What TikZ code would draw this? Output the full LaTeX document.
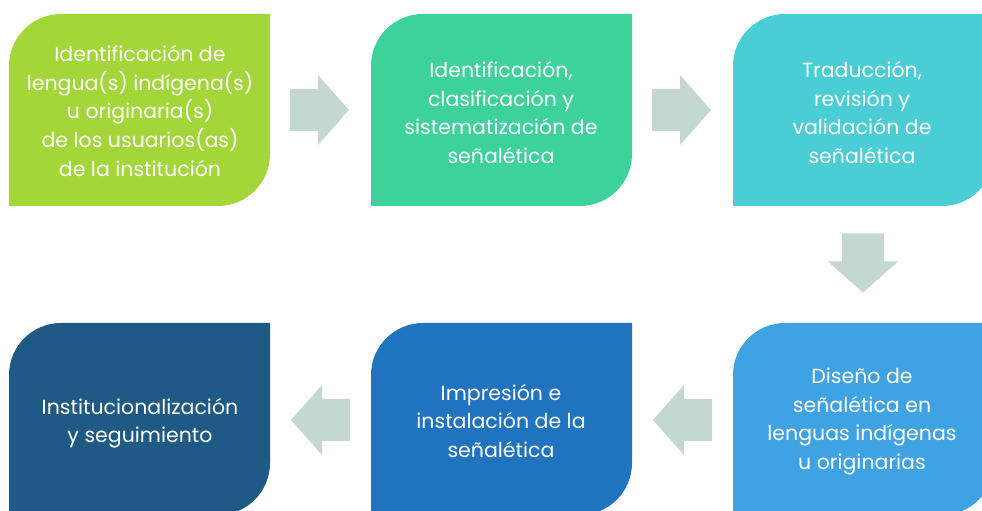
\documentclass[tikz,border=0pt]{standalone}
\usepackage{fontspec}
\setmainfont{Poppins}
\definecolor{verde}{HTML}{A3D639}
\definecolor{menta}{HTML}{3DD19B}
\definecolor{turquesa}{HTML}{4BCDD6}
\definecolor{celeste}{HTML}{3FA3E3}
\definecolor{azul}{HTML}{1F73BF}
\definecolor{marino}{HTML}{1E5A84}
\definecolor{gris}{HTML}{C5D7D1}
\tikzset{
	texto/.style={text=white,align=center,font=\fontsize{20.5}{28.6}\selectfont},
	flecha/.pic={\fill[gris] (-29.5,-21) -- (-1.5,-21) -- (-1.5,-35) -- (29.5,0) -- (-1.5,35) -- (-1.5,21) -- (-29.5,21) -- cycle;}
}
% caja con esquinas redondeadas arriba-izquierda y abajo-derecha
\newcommand{\caja}[3]{\fill[#3] (#1,#2-192) -- (#1,#2-52) arc(180:90:52) -- (#1+261,#2) -- (#1+261,#2-140) arc(0:-90:52) -- cycle;}
\begin{document}
\begin{tikzpicture}[x=1pt,y=1pt]
	\useasboundingbox (0,0) rectangle (982,511);
	\clip (0,0) rectangle (982,511);
	\caja{9}{497}{verde}
	\caja{371}{497}{menta}
	\caja{733}{497}{turquesa}
	\caja{733}{188}{celeste}
	\caja{371}{188}{azul}
	\caja{9}{188}{marino}
	\node[texto] (p1) at (140,400) {Identificación de\\lengua(s) indígena(s)\\u originaria(s)\\de los usuarios(as)\\de la institución};
	\node[texto] (p2) at (501,398.5) {Identificación,\\clasificación y\\sistematización de\\señalética};
	\node[texto] (p3) at (862,398.5) {Traducción,\\revisión y\\validación de\\señalética};
	\node[texto] (p4) at (862,89.5) {Diseño de\\señalética en\\lenguas indígenas\\u originarias};
	\node[texto] (p5) at (501,90) {Impresión e\\instalación de la\\señalética};
	\node[texto] (p6) at (140,88) {Institucionalización\\y seguimiento};
	\pic at (319.5,401) {flecha};
	\pic at (681.5,401) {flecha};
	\pic[rotate=-90] at (863,248) {flecha};
	\pic[rotate=180] at (682.5,91) {flecha};
	\pic[rotate=180] at (320.5,91) {flecha};
\end{tikzpicture}
\end{document}
